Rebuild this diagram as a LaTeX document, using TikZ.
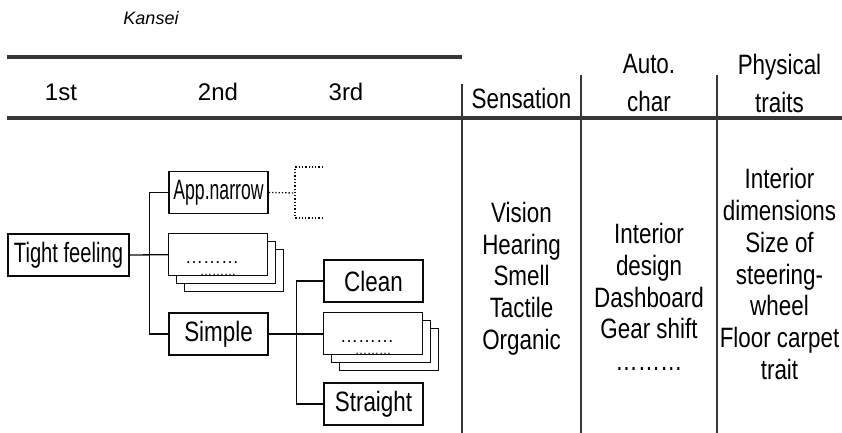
\documentclass[tikz,border=0pt]{standalone}
\usepackage{fontspec}
\setmainfont{Liberation Sans}
\newfontfamily\narrowfont{Liberation Sans}[FakeStretch=0.8]
\newfontfamily\tightfont{Liberation Sans}[FakeStretch=0.72]
\newfontfamily\squeezefont{Liberation Sans}[FakeStretch=0.63]
\usetikzlibrary{positioning}
\definecolor{RuleGray}{RGB}{55,55,55}
\definecolor{BoxBlack}{RGB}{10,10,10}
\newcommand{\bodysize}{\fontsize{28}{31.7}\selectfont}
\tikzset{
  card/.style={draw=BoxBlack,fill=white,line width=1.4pt,inner sep=0pt,
    minimum width=99pt,minimum height=42pt,font=\bodysize\narrowfont},
  link/.style={draw=BoxBlack,line width=1.3pt},
  rule/.style={draw=RuleGray,line width=3.6pt},
  colline/.style={draw=RuleGray,line width=1.5pt},
  colhead/.style={font=\bodysize\narrowfont,align=center},
  twohead/.style={font=\fontsize{28}{38}\selectfont\narrowfont,align=center},
  levelhead/.style={font=\fontsize{24}{28}\selectfont},
  dotrows/.style={inner sep=0pt,align=center}
}
% three stacked cards, front one named #1, top-left corner at (#2,#3)
\newcommand{\cardstack}[3]{%
  \node[card,anchor=north west] (#1c) at (#2+16,#3+16) {};
  \node[card,anchor=north west] (#1b) at (#2+8,#3+8) {};
  \node[card,anchor=north west] (#1) at (#2,#3) {};
  \node[dotrows] (#1d) at (#2+44,#3+35.5)
    {\fontsize{18}{9}\selectfont ………\\\fontsize{12}{9}\selectfont\hspace*{12pt}………};}

\begin{document}
\begin{tikzpicture}[x=1pt,y=-1pt]
  \useasboundingbox (0,0) rectangle (842,433);
  % table frame
  \draw[rule] (7,57)--(462,57);
  \draw[rule] (7,118)--(842,118);
  \draw[colline] (462,84)--(462,433);
  \draw[colline] (581,75)--(581,433);
  \draw[colline] (717,75)--(717,433);
  \node[font=\fontsize{18}{18}\selectfont\itshape] (kansei) at (151,18) {Kansei};
  \node[levelhead] (first) at (61,92) {1st};
  \node[levelhead] (second) at (218,92) {2nd};
  \node[levelhead] (third) at (346,92) {3rd};
  \node[colhead] (senshead) at (521.5,98) {Sensation};
  \node[twohead] (autohead) at (649,83) {Auto.\\char};
  \node[twohead] (physhead) at (779.5,83) {Physical\\traits};
  % column contents
  \node[colhead] (sens) at (521.5,278.5) {Vision\\Hearing\\Smell\\Tactile\\Organic};
  \node[colhead] (auto) at (649,297) {Interior\\design\\Dashboard\\Gear shift\\………};
  \node[colhead] (phys) at (779.5,274) {Interior\\dimensions\\Size of\\steering-\\wheel\\Floor carpet\\trait};
  % tree of kansei words
  \node[card,minimum width=121pt,font=\bodysize\tightfont] (tight) at (68.5,255) {Tight feeling};
  \node[card,font=\bodysize\squeezefont] (app) at (218.5,192.5) {App.narrow};
  \cardstack{stk2}{168}{233}
  \node[card] (simple) at (218.5,334) {Simple};
  \node[card] (clean) at (373.5,281) {Clean};
  \cardstack{stk3}{323}{312}
  \node[card] (straight) at (373.5,404) {Straight};
  \draw[link] (tight.east) -- (stk2.west);
  \draw[link] (app.west) -- ++(-19,0) |- (simple.west);
  \draw[link] (simple.east) -- (simple.east -| stk3.west);
  \draw[link] (clean.west) -- ++(-27,0) |- (straight.west);
  \coordinate (brk) at (295,193);
  \draw[link,dotted] (app.east) -- (brk);
  \draw[link,dotted] (323,167) -- (295,167) -- (295,218) -- (323,218);
\end{tikzpicture}
\end{document}
